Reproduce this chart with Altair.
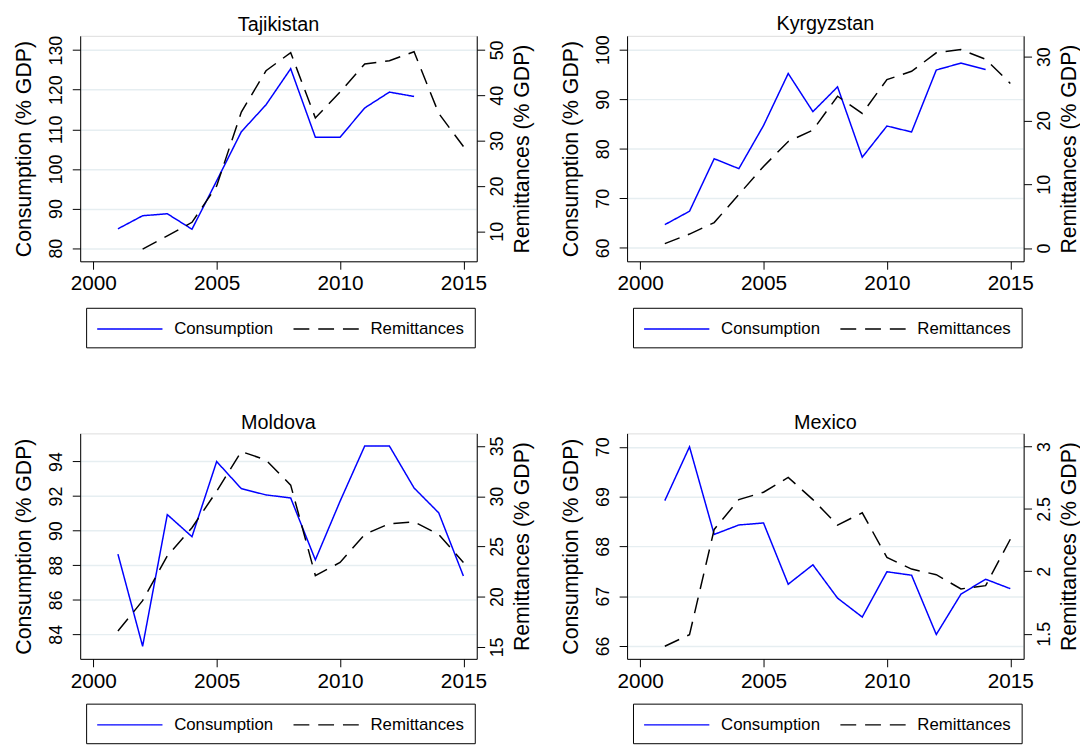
import altair as alt
import pandas as pd

FONT = "Liberation Sans"
BLUE = "#0000ff"
BLACK = "#000000"
GRID = "#e6eef1"

SERIES = ["Consumption", "Remittances"]

# ---- data ----
taj_cons_years = list(range(2001, 2014))
taj_cons = [84.9, 88.2, 88.7, 84.8, 97.0, 109.4, 116.2, 125.3, 108.0, 108.0, 115.4, 119.4, 118.3]
taj_rem_years = list(range(2002, 2016))
taj_rem = [6.1, 9.0, 12.0, 20.0, 36.3, 45.4, 49.4, 35.0, 40.7, 46.9, 47.6, 49.6, 36.0, 28.7]

kgz_cons_years = list(range(2001, 2015))
kgz_cons = [64.7, 67.4, 78.0, 76.0, 84.7, 95.2, 87.5, 92.5, 78.3, 84.6, 83.4, 95.9, 97.3, 96.0]
kgz_rem_years = list(range(2001, 2016))
kgz_rem = [0.7, 2.2, 4.0, 8.4, 12.8, 16.7, 18.5, 23.8, 21.1, 26.4, 27.7, 30.6, 31.1, 29.6, 25.8]

mda_cons_years = list(range(2001, 2016))
mda_cons = [88.64, 83.31, 90.93, 89.65, 94.0, 92.43, 92.07, 91.89, 88.31, 91.7, 94.9, 94.9, 92.47, 91.03, 87.37]
mda_rem_years = list(range(2001, 2016))
mda_rem = [16.58, 19.6, 24.06, 26.86, 30.49, 34.44, 33.6, 31.1, 22.1, 23.4, 26.2, 27.26, 27.45, 26.2, 23.4]

mex_cons_years = list(range(2001, 2016))
mex_cons = [68.92, 70.0, 68.24, 68.43, 68.47, 67.24, 67.63, 66.96, 66.58, 67.49, 67.42, 66.23, 67.04, 67.34, 67.15]
mex_rem_years = list(range(2001, 2016))
mex_rem = [1.399, 1.492, 2.336, 2.575, 2.634, 2.753, 2.575, 2.371, 2.469, 2.111, 2.018, 1.973, 1.859, 1.885, 2.257]

x_ticks = [2000, 2005, 2010, 2015]

PW, PH = 401, 228


def make_legend(ly):
    return alt.Legend(
        title=None, orient="none", legendX=6, legendY=ly,
        direction="horizontal", columns=2,
        symbolType="M-1,0H5.41", symbolSize=424, symbolStrokeWidth=1.4,
        labelFont=FONT, labelFontSize=17, labelColor=BLACK,
        labelOffset=56.5, columnPadding=16.5, padding=10.5,
        strokeColor=BLACK, fillColor="#ffffff",
    )


def panel(name, cy, cv, ry, rv, ldom, lticks, rdom, rticks, lfmt, rfmt, ly):
    cdf = pd.DataFrame({"year": cy, "value": cv, "series": "Consumption"})
    rdf = pd.DataFrame({"year": ry, "value": rv, "series": "Remittances"})
    leg = make_legend(ly)
    color = alt.Color("series:N", scale=alt.Scale(domain=SERIES, range=[BLUE, BLACK]), legend=leg)
    dash = alt.StrokeDash("series:N", scale=alt.Scale(domain=SERIES, range=[[1, 0], [16, 9]]), legend=leg)
    X = alt.X("year:Q",
              scale=alt.Scale(domain=[1999.47, 2015.54], nice=False, zero=False),
              axis=alt.Axis(values=x_ticks, format="d", title=None, grid=False,
                            domainColor=BLACK, tickColor=BLACK, tickSize=8,
                            labelFont=FONT, labelFontSize=21, labelColor=BLACK,
                            labelPadding=4, labelFlush=False))
    common = dict(domainColor=BLACK, tickColor=BLACK, tickSize=8,
                  labelFont=FONT, labelFontSize=18, labelColor=BLACK,
                  labelAngle=270, labelAlign="center", labelFlush=False,
                  titleFont=FONT, titleFontSize=21.5, titleFontWeight="normal",
                  titleColor=BLACK, titleAngle=270)
    cons = alt.Chart(cdf).mark_line(strokeWidth=1.5, clip=True).encode(
        x=X,
        y=alt.Y("value:Q", scale=alt.Scale(domain=ldom, nice=False, zero=False),
                axis=alt.Axis(orient="left", values=lticks, title="Consumption (% GDP)",
                              grid=True, gridColor=GRID, gridWidth=1.5, format=lfmt,
                              labelBaseline="bottom", labelPadding=7,
                              titleBaseline="bottom", titlePadding=12, **common)),
        color=color, strokeDash=dash,
    )
    rem = alt.Chart(rdf).mark_line(strokeWidth=1.5, clip=True).encode(
        x=X,
        y=alt.Y("value:Q", scale=alt.Scale(domain=rdom, nice=False, zero=False),
                axis=alt.Axis(orient="right", values=rticks, title="Remittances (% GDP)",
                              grid=False, format=rfmt, labelBaseline="top", labelPadding=4,
                              titleBaseline="top", titlePadding=5, **common)),
        color=color, strokeDash=dash,
    )
    return alt.layer(cons, rem).resolve_scale(y="independent").properties(
        width=PW, height=PH,
        title=alt.TitleParams(text=name, font=FONT, fontSize=20, fontWeight="normal",
                              color=BLACK, anchor="middle", baseline="alphabetic", offset=-15.5),
    )


p1 = panel("Tajikistan", taj_cons_years, taj_cons, taj_rem_years, taj_rem,
           [76.7, 133.6], [80, 90, 100, 110, 120, 130], [3.4, 53.1], [10, 20, 30, 40, 50], "d", "d", 275)
p2 = panel("Kyrgyzstan", kgz_cons_years, kgz_cons, kgz_rem_years, kgz_rem,
           [57.3, 102.8], [60, 70, 80, 90, 100], [-2.07, 33.26], [0, 10, 20, 30], "d", "d", 275)
p3 = panel("Moldova", mda_cons_years, mda_cons, mda_rem_years, mda_rem,
           [82.58, 95.63], [84, 86, 88, 90, 92, 94], [13.81, 36.25], [15, 20, 25, 30, 35], "d", "d", 273.3)
p4 = panel("Mexico", mex_cons_years, mex_cons, mex_rem_years, mex_rem,
           [65.74, 70.27], [66, 67, 68, 69, 70], [1.298, 3.106], [1.5, 2, 2.5, 3], "d", "~g", 273.3)

res = dict(color="independent", strokeDash="independent")
top = alt.hconcat(p1, p2, spacing=27).resolve_scale(**res).resolve_legend(**res)
bottom = alt.hconcat(p3, p4, spacing=27).resolve_scale(**res).resolve_legend(**res)

chart = alt.vconcat(top, bottom, spacing=65).resolve_scale(**res).resolve_legend(**res).properties(
    padding={"left": 5, "top": 2, "right": 0, "bottom": 0}
).configure_view(stroke=None).configure(background="#ffffff")

chart.save("out.html", embed_options={"renderer": "svg", "actions": False})
